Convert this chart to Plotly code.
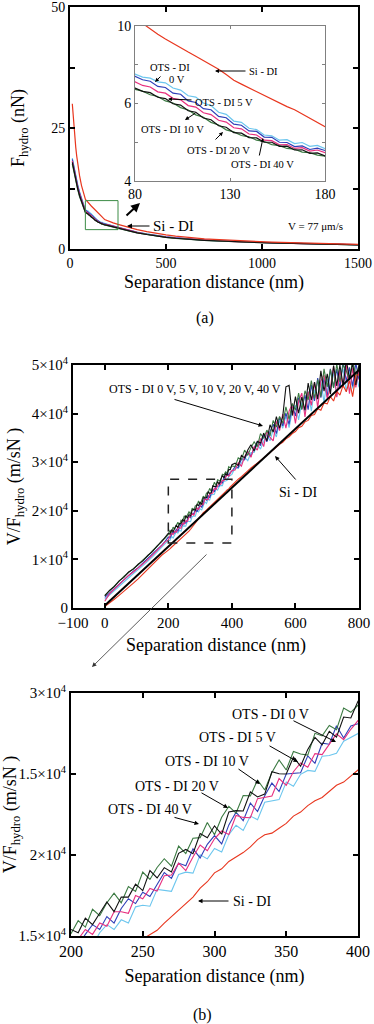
import plotly.graph_objects as go

# ---------------- Panel (a): F_hydro vs separation ----------------
sep_a = [12, 15, 20, 25, 30, 35, 40, 50, 60, 70,
         80, 84, 88, 92, 96, 100, 104, 108, 112, 116, 120, 124, 128,
         132, 136, 140, 144, 148, 152, 156, 160, 164, 168, 172, 176, 180,
         190, 200, 225, 250, 275, 300, 350, 400, 450, 500, 550, 600, 650,
         700, 750, 800, 850, 900, 950, 1000, 1050, 1100, 1150, 1200, 1250,
         1300, 1350, 1400, 1450, 1500]

F_si = [30.0, 28.2, 25.4, 23.0, 21.0, 19.2, 17.7, 15.1, 13.1, 11.5,
        10.3, 10.1, 9.88, 9.68, 9.5, 9.32, 9.15, 8.99, 8.83, 8.67, 8.5, 8.33, 8.12,
        7.9, 7.75, 7.6, 7.46, 7.3, 7.15, 7.0, 6.88, 6.76, 6.6, 6.42, 6.26, 6.1,
        5.92, 5.76, 5.40, 5.08, 4.78, 4.50, 4.00, 3.58, 3.22, 2.92, 2.66, 2.44, 2.26,
        2.10, 1.97, 1.86, 1.76, 1.66, 1.57, 1.50, 1.43, 1.36, 1.30, 1.24, 1.19,
        1.14, 1.09, 1.04, 1.00, 0.96]

F_ots_0V = [18.8, 18.2, 17.0, 15.9, 15.0, 14.1, 13.3, 11.8, 10.4, 9.2,
            8.14, 8.02, 7.98, 7.84, 7.80, 7.60, 7.52, 7.30, 7.25, 7.02, 6.92, 6.66, 6.58,
            6.32, 6.27, 6.04, 5.99, 5.78, 5.75, 5.58, 5.60, 5.45, 5.49, 5.34, 5.38, 5.25,
            5.18, 5.08, 4.78, 4.50, 4.22, 3.96, 3.50, 3.12, 2.78, 2.53, 2.33, 2.15, 2.02,
            1.88, 1.78, 1.66, 1.58, 1.50, 1.44, 1.36, 1.32, 1.25, 1.20, 1.16, 1.10,
            1.05, 1.02, 0.98, 0.94, 0.90]

F_ots_5V = [18.5, 17.9, 16.8, 15.7, 14.8, 13.9, 13.1, 11.6, 10.2, 9.1,
            8.05, 7.92, 7.86, 7.66, 7.62, 7.40, 7.36, 7.10, 7.04, 6.80, 6.76, 6.50, 6.45,
            6.20, 6.16, 5.94, 5.92, 5.70, 5.69, 5.50, 5.49, 5.33, 5.36, 5.22, 5.27, 5.18,
            5.12, 5.01, 4.72, 4.45, 4.18, 3.92, 3.46, 3.08, 2.75, 2.49, 2.30, 2.10, 1.98,
            1.85, 1.74, 1.64, 1.54, 1.48, 1.40, 1.34, 1.28, 1.22, 1.18, 1.12, 1.08,
            1.02, 1.00, 0.95, 0.92, 0.88]

F_ots_10V = [18.2, 17.6, 16.5, 15.4, 14.5, 13.6, 12.8, 11.3, 10.0, 8.9,
             7.84, 7.70, 7.64, 7.45, 7.40, 7.20, 7.14, 6.92, 6.86, 6.64, 6.57, 6.35, 6.28,
             6.06, 6.02, 5.82, 5.78, 5.58, 5.56, 5.40, 5.41, 5.26, 5.29, 5.16, 5.20, 5.10,
             5.05, 4.95, 4.66, 4.40, 4.14, 3.88, 3.42, 3.05, 2.72, 2.47, 2.27, 2.12, 1.95,
             1.86, 1.72, 1.65, 1.52, 1.49, 1.38, 1.35, 1.26, 1.24, 1.16, 1.14, 1.06,
             1.04, 0.98, 0.97, 0.90, 0.89]

F_ots_20V = [17.9, 17.3, 16.2, 15.1, 14.2, 13.3, 12.5, 11.0, 9.7, 8.6,
             7.60, 7.47, 7.42, 7.24, 7.19, 6.99, 6.94, 6.72, 6.66, 6.44, 6.37, 6.14, 6.08,
             5.87, 5.85, 5.68, 5.67, 5.50, 5.50, 5.34, 5.35, 5.20, 5.21, 5.07, 5.09, 4.97,
             4.92, 4.82, 4.55, 4.30, 4.05, 3.80, 3.35, 3.00, 2.68, 2.42, 2.22, 2.05, 1.90,
             1.80, 1.70, 1.60, 1.50, 1.45, 1.38, 1.30, 1.25, 1.20, 1.15, 1.10, 1.05,
             1.00, 0.98, 0.94, 0.90, 0.86]

F_ots_40V = [17.6, 17.0, 16.0, 14.9, 14.0, 13.1, 12.3, 10.8, 9.6, 8.5,
             7.55, 7.48, 7.34, 7.27, 7.10, 7.02, 6.84, 6.75, 6.56, 6.47, 6.27, 6.17, 5.98,
             5.90, 5.76, 5.71, 5.58, 5.53, 5.41, 5.37, 5.26, 5.23, 5.12, 5.10, 5.00, 4.95,
             4.88, 4.78, 4.50, 4.27, 4.02, 3.77, 3.33, 2.98, 2.66, 2.40, 2.20, 2.03, 1.89,
             1.78, 1.69, 1.58, 1.49, 1.43, 1.36, 1.29, 1.24, 1.19, 1.13, 1.09, 1.04,
             0.99, 0.96, 0.93, 0.89, 0.85]

# ---------------- Panel (b): V/F_hydro vs separation ----------------
sep_b = [0, 15, 30, 45, 60, 75, 90, 105, 120, 135, 150, 165, 180, 190,
         200, 205, 210, 215, 220, 225, 230, 235, 240, 245, 250, 255, 260, 265,
         270, 275, 280, 285, 290, 295, 300, 305, 310, 315, 320, 325, 330, 335,
         340, 345, 350, 355, 360, 365, 370, 375, 380, 385, 390, 395, 400,
         410, 420, 430, 440, 450, 460, 470, 480, 490, 500, 510, 520, 530, 540,
         550, 560, 570, 580, 590, 600, 610, 620, 630, 640, 650, 660, 670, 680,
         690, 700, 710, 720, 730, 740, 750, 760, 770, 780, 790, 800]

VF_si = [300, 1000, 1800, 2600, 3400, 4300, 5100, 6000, 7000, 8000, 9000, 9900, 10900, 11400,
         11800, 12150, 12500, 12800, 13150, 13450, 13750, 14050, 14300, 14550, 14800, 15050,
         15350, 15800, 16200, 16650, 17000, 17400, 17950, 18350, 18900, 19150, 19600, 19850,
         20150, 20500, 20950, 21250, 21350, 21650, 21950, 22400, 22650, 23050, 23350, 23550,
         23950, 24300, 24500, 24900, 25250,
         25800, 26500, 27000, 27700, 28200, 28800, 29300, 29900, 30300, 30900, 31400, 32000,
         32600, 33000, 33700, 34100, 34800, 35200, 35900, 36300, 37100, 37400, 38300, 38600,
         39600, 39800, 41000, 40700, 42200, 42000, 43500, 42600, 44600, 43800, 45800, 44500,
         46800, 43500, 47900, 48000]

VF_ots_0V = [1800, 2700, 3600, 4600, 5400, 6300, 7100, 7900, 8700, 9600, 10500, 11500, 12500, 13100,
             13900, 13900, 14700, 14400, 15200, 15700, 15400, 16000, 15800, 16800, 16900, 16840,
             17880, 17820, 17760, 18800, 18940, 18880, 20020, 19760, 20400, 20180, 21260, 21840,
             21520, 22400, 22180, 23260, 23340, 23420, 24500, 24240, 24980, 25220, 25160, 26100,
             26140, 26280, 27020, 27260, 27500,
             28800, 28700, 29800, 31000, 30300, 32000, 32000, 33700, 32700, 34400, 35800, 34400,
             36700, 35200, 38600, 37000, 39500, 37100, 40400, 41700, 38700, 42300, 40300, 44600,
             40500, 44900, 42900, 46800, 42300, 47100, 44800, 48600, 43500, 48000, 49100, 44500,
             49100, 45200, 48500, 45400]

VF_ots_5V = [2200, 3100, 4000, 5000, 5900, 6800, 7600, 8300, 9200, 10100, 11000, 12000, 13000, 13700,
             14600, 14400, 15100, 15700, 15400, 16200, 15800, 16700, 17300, 17000, 17700, 17440,
             18180, 18920, 18560, 19500, 19340, 20380, 19820, 20660, 21200, 20680, 21860, 22640,
             22120, 23200, 22680, 23660, 24440, 23920, 25000, 25040, 25080, 26120, 25660, 26900,
             26840, 27980, 27220, 27960, 28100,
             29100, 28900, 30700, 30500, 32200, 31200, 33000, 34200, 33400, 35700, 34200, 36300,
             37800, 35900, 39300, 37500, 40100, 37800, 41900, 39500, 43300, 40900, 43800, 40800,
             45900, 42600, 47300, 43300, 47300, 43500, 49200, 45400, 49200, 45200, 50800, 46700,
             49500, 45600, 50400, 47000]

VF_ots_10V = [1400, 2900, 3900, 4900, 5700, 6700, 7400, 8200, 9100, 9900, 10900, 11800, 12900, 13600,
              14000, 14800, 15400, 15100, 15800, 15600, 16500, 16500, 16400, 17500, 17300, 17940,
              17780, 18720, 18760, 19500, 19040, 19880, 20620, 20260, 21000, 21480, 21260, 22440,
              22320, 22300, 23480, 23560, 23640, 24720, 24300, 25140, 25680, 25420, 26260, 26200,
              26840, 27480, 27120, 27760, 28300,
              28400, 29900, 29200, 31100, 32200, 31000, 33200, 32500, 34900, 33200, 36400, 35100,
              34400, 38400, 36500, 39900, 37000, 40500, 42000, 38000, 42500, 44200, 39300, 44500,
              41700, 46500, 41200, 46700, 48000, 43100, 45400, 49700, 43400, 48900, 45400, 50000,
              44100, 49300, 45400, 49100]

VF_ots_20V = [2500, 3600, 4400, 5600, 6300, 7400, 8000, 9000, 9700, 10800, 11600, 12800, 13700, 14500,
              15400, 15200, 16100, 15700, 16400, 17100, 16500, 17400, 17400, 18200, 17800, 19040,
              18580, 19220, 18960, 20100, 20340, 20080, 21320, 21060, 21800, 21280, 22660, 22740,
              22720, 23900, 23580, 23760, 25140, 25020, 25000, 26040, 25480, 26520, 27260, 26800,
              27640, 27280, 28520, 28460, 29500,
              29800, 29300, 31400, 30900, 32500, 33600, 32300, 34300, 33900, 36000, 34400, 37700,
              36200, 39400, 37000, 39400, 45500, 45800, 39600, 43500, 40100, 43400, 40700, 46300,
              42800, 46500, 43000, 48800, 44600, 48200, 44000, 49900, 45700, 50000, 45800, 51000,
              47200, 50300, 45900, 50000]

VF_ots_40V = [2600, 3500, 4600, 5500, 6500, 7300, 8200, 8900, 9900, 10700, 11800, 12700, 13900, 14400,
              15150, 15950, 15550, 16650, 16250, 17050, 17650, 17050, 18050, 17750, 18950, 18490,
              19230, 19770, 19310, 20550, 20090, 21030, 21070, 22010, 21250, 22330, 23010, 22590,
              23670, 23650, 24630, 24010, 25090, 25870, 25250, 26390, 26230, 26170, 27510, 27350,
              27990, 27730, 29070, 28810, 29250,
              29100, 30900, 30500, 32500, 31400, 33000, 34200, 33200, 35900, 34900, 36600, 35400,
              38600, 37200, 39400, 38000, 41400, 38800, 42100, 40700, 44200, 40800, 44700, 42800,
              46800, 43100, 47000, 43500, 49200, 45500, 49100, 45300, 50200, 46500, 50000, 48800,
              46900, 51000, 47800, 49900]

fit_sep = [0, 800]
fit_VF = [500, 49000]

# tick labels
a_yticks = [0, 12.5, 25, 37.5, 50]
a_yticktext = ["0", "", "25", "", "50"]
a_xticks = [0, 500, 1000, 1500]
inset_xticks = [80, 130, 180]
inset_yticks = [4, 5.5, 7, 8.5, 10]
inset_yticktext = ["4", "", "6", "", "10"]
b_xticks = [-100, 0, 200, 400, 600, 800]
b_yticks = [0, 10000, 20000, 30000, 40000, 50000]
b_yticktext = ["0", "1×10<sup>4</sup>", "2×10<sup>4</sup>", "3×10<sup>4</sup>",
               "4×10<sup>4</sup>", "5×10<sup>4</sup>"]
c_xticks = [200, 250, 300, 350, 400]
c_yticks = [15000, 20000, 25000, 30000]
c_yticktext = ["1.5×10<sup>4</sup>", "2×10<sup>4</sup>", "1.5×10<sup>4</sup>", "3×10<sup>4</sup>"]

# ---------------- styling ----------------
W, H = 374, 1024
FONT = "Liberation Serif"
C_RED = "#e8361e"
C_CYAN = "#6cc6ee"
C_BLUE = "#2f3fb8"
C_MAG = "#e8307f"
C_BLK = "#111111"
C_GRN = "#3b7a42"


def PX(x, y):
    return x / W, 1 - y / H


def dom_x(a, b):
    return [a / W, b / W]


def dom_y(top, bottom):
    return [1 - bottom / H, 1 - top / H]


fig = go.Figure()

series_a = [(F_ots_0V, C_CYAN, "OTS - DI 0 V"), (F_ots_5V, C_BLUE, "OTS - DI 5 V"),
            (F_ots_10V, C_MAG, "OTS - DI 10 V"), (F_ots_40V, C_GRN, "OTS - DI 40 V"),
            (F_ots_20V, C_BLK, "OTS - DI 20 V"), (F_si, C_RED, "Si - DI")]
for axes in [("x", "y"), ("x2", "y2")]:
    for ys, col, name in series_a:
        fig.add_trace(go.Scatter(x=sep_a, y=ys, mode="lines", name=name,
                                 line=dict(color=col, width=1.2),
                                 xaxis=axes[0], yaxis=axes[1], showlegend=False))

series_b = [(VF_ots_0V, C_CYAN, "OTS - DI 0 V"), (VF_ots_5V, C_BLUE, "OTS - DI 5 V"),
            (VF_ots_10V, C_MAG, "OTS - DI 10 V"), (VF_ots_40V, C_GRN, "OTS - DI 40 V"),
            (VF_ots_20V, C_BLK, "OTS - DI 20 V"), (VF_si, C_RED, "Si - DI")]
for axes in [("x3", "y3"), ("x4", "y4")]:
    for ys, col, name in series_b:
        fig.add_trace(go.Scatter(x=sep_b, y=ys, mode="lines", name=name,
                                 line=dict(color=col, width=1.1),
                                 xaxis=axes[0], yaxis=axes[1], showlegend=False))
fig.add_trace(go.Scatter(x=fit_sep, y=fit_VF, mode="lines", name="fit",
                         line=dict(color="black", width=2),
                         xaxis="x3", yaxis="y3", showlegend=False))

axis_common = dict(showline=True, linecolor="black", linewidth=2, mirror="allticks",
                   ticks="inside", ticklen=5, tickwidth=1.5, tickcolor="black",
                   showgrid=False, zeroline=False, automargin=False,
                   ticklabeloverflow="allow",
                   tickfont=dict(family=FONT, size=15, color="black"))

title_font = dict(family=FONT, size=18, color="black")

layout = dict(
    width=W, height=H, margin=dict(l=0, r=0, t=0, b=0),
    paper_bgcolor="white", plot_bgcolor="rgba(0,0,0,0)",
    font=dict(family=FONT, color="black"),
    showlegend=False,
    xaxis=dict(axis_common, domain=dom_x(70, 358), anchor="y", range=[0, 1500],
               tickvals=a_xticks, tickfont=dict(family=FONT, size=14),
               title=dict(text="Separation distance (nm)", font=title_font, standoff=6)),
    yaxis=dict(axis_common, domain=dom_y(7, 249), anchor="x", range=[0, 50],
               tickvals=a_yticks, ticktext=a_yticktext, tickfont=dict(family=FONT, size=14),
               title=dict(text="F<sub>hydro</sub> (nN)", font=title_font, standoff=22)),
    xaxis2=dict(axis_common, domain=dom_x(135, 325), anchor="y2", range=[80, 180],
                linecolor="#808080", linewidth=1, tickcolor="#808080", tickwidth=1, ticklen=3,
                tickvals=inset_xticks, tickfont=dict(family=FONT, size=14)),
    yaxis2=dict(axis_common, domain=dom_y(26, 181), anchor="x2", range=[4, 10],
                linecolor="#808080", linewidth=1, tickcolor="#808080", tickwidth=1, ticklen=3,
                tickvals=inset_yticks, ticktext=inset_yticktext,
                tickfont=dict(family=FONT, size=14)),
    xaxis3=dict(axis_common, domain=dom_x(73, 359), anchor="y3", range=[-100, 800],
                tickvals=b_xticks,
                title=dict(text="Separation distance (nm)", font=title_font, standoff=8)),
    yaxis3=dict(axis_common, domain=dom_y(365, 608), anchor="x3", range=[0, 50000],
                tickvals=b_yticks, ticktext=b_yticktext,
                title=dict(text="V/F<sub>hydro</sub> (m/sN )", font=title_font, standoff=6)),
    xaxis4=dict(axis_common, domain=dom_x(71, 358), anchor="y4", range=[200, 400],
                tickvals=c_xticks, tickfont=dict(family=FONT, size=16),
                title=dict(text="Separation distance (nm)", font=title_font, standoff=10)),
    yaxis4=dict(axis_common, domain=dom_y(693, 936), anchor="x4", range=[15000, 30000],
                tickvals=c_yticks, ticktext=c_yticktext,
                title=dict(text="V/F<sub>hydro</sub> (m/sN )", font=title_font, standoff=6)),
)
fig.update_layout(**layout)

# zoom boxes
fig.add_shape(type="rect", xref="x", yref="y", x0=80, x1=250, y0=4, y1=10,
              line=dict(color="#3c8c46", width=1))
fig.add_shape(type="rect", xref="x3", yref="y3", x0=200, x1=400, y0=13400, y1=26500,
              line=dict(color="#222222", width=1.5, dash="dash"))

ann = []


def text(x, y, s, size):
    px_, py_ = PX(x, y)
    ann.append(dict(x=px_, y=py_, xref="paper", yref="paper", text=s, showarrow=False,
                    font=dict(family=FONT, size=size, color="black"),
                    xanchor="center", yanchor="middle"))


def arrow(tail, tip, width=1.0, head=2, size=1.0, color="black"):
    tx, ty = PX(*tip)
    ann.append(dict(x=tx, y=ty, xref="paper", yref="paper", text="", showarrow=True,
                    ax=tail[0] - tip[0], ay=tail[1] - tip[1], axref="pixel", ayref="pixel",
                    arrowhead=head, arrowsize=size, arrowwidth=width, arrowcolor=color))


# panel (a) main
text(173, 226, "Si - DI", 15)
arrow((151, 226), (127, 226))
arrow((125, 217), (140, 203), width=2, head=2, size=0.9)
text(315, 226, "V = 77 μm/s", 11)
# inset
text(170, 67, "OTS - DI", 10.5)
text(177, 79, "0 V", 10.5)
arrow((162, 75), (155, 82), head=2, size=0.8)
text(263, 71, "Si - DI", 10.5)
arrow((247, 71), (215, 71), head=2, size=0.8)
text(224, 102, "OTS - DI 5 V", 10.5)
arrow((193, 100), (168, 99), head=2, size=0.8)
text(172, 129, "OTS - DI 10 V", 10.5)
arrow((197, 112), (185, 120), head=2, size=0.8)
text(218, 150, "OTS - DI 20 V", 10.5)
arrow((214, 141), (223, 132), head=2, size=0.8)
text(262, 164, "OTS - DI 40 V", 10.5)
arrow((259, 157), (263, 138), head=2, size=0.8)
text(205, 318, "(a)", 16)

# panel (b) top
text(195, 389, "OTS - DI 0 V, 5 V, 10 V, 20 V, 40 V", 12)
arrow((173, 399), (263, 426), head=2, size=0.9)
text(298, 492, "Si - DI", 14)
arrow((297, 481), (275, 456), head=2, size=0.9)
arrow((208, 553), (92, 667), width=0.8, head=2, size=1.1, color="#333333")

# panel (b) bottom
text(270, 714, "OTS - DI 0 V", 14)
arrow((292, 720), (336, 742), head=2, size=0.9)
text(237, 737, "OTS - DI 5 V", 14)
arrow((268, 745), (298, 762), head=2, size=0.9)
text(207, 761, "OTS - DI 10 V", 14)
arrow((237, 768), (260, 784), head=2, size=0.9)
text(177, 786, "OTS - DI 20 V", 14)
arrow((200, 792), (228, 808), head=2, size=0.9)
text(150, 809, "OTS - DI 40 V", 14)
arrow((173, 817), (199, 824), head=2, size=0.9)
text(252, 901, "Si - DI", 14)
arrow((230, 901), (198, 901), head=2, size=0.9)
text(203, 1015, "(b)", 16)

fig.update_layout(annotations=ann)
fig.write_html(
    "out.html",
    config={"displayModeBar": False},
    post_script="document.body.style.margin='0';document.body.style.padding='0';"
                "document.documentElement.style.overflow='hidden';"
                "document.body.style.overflow='hidden';",
)
